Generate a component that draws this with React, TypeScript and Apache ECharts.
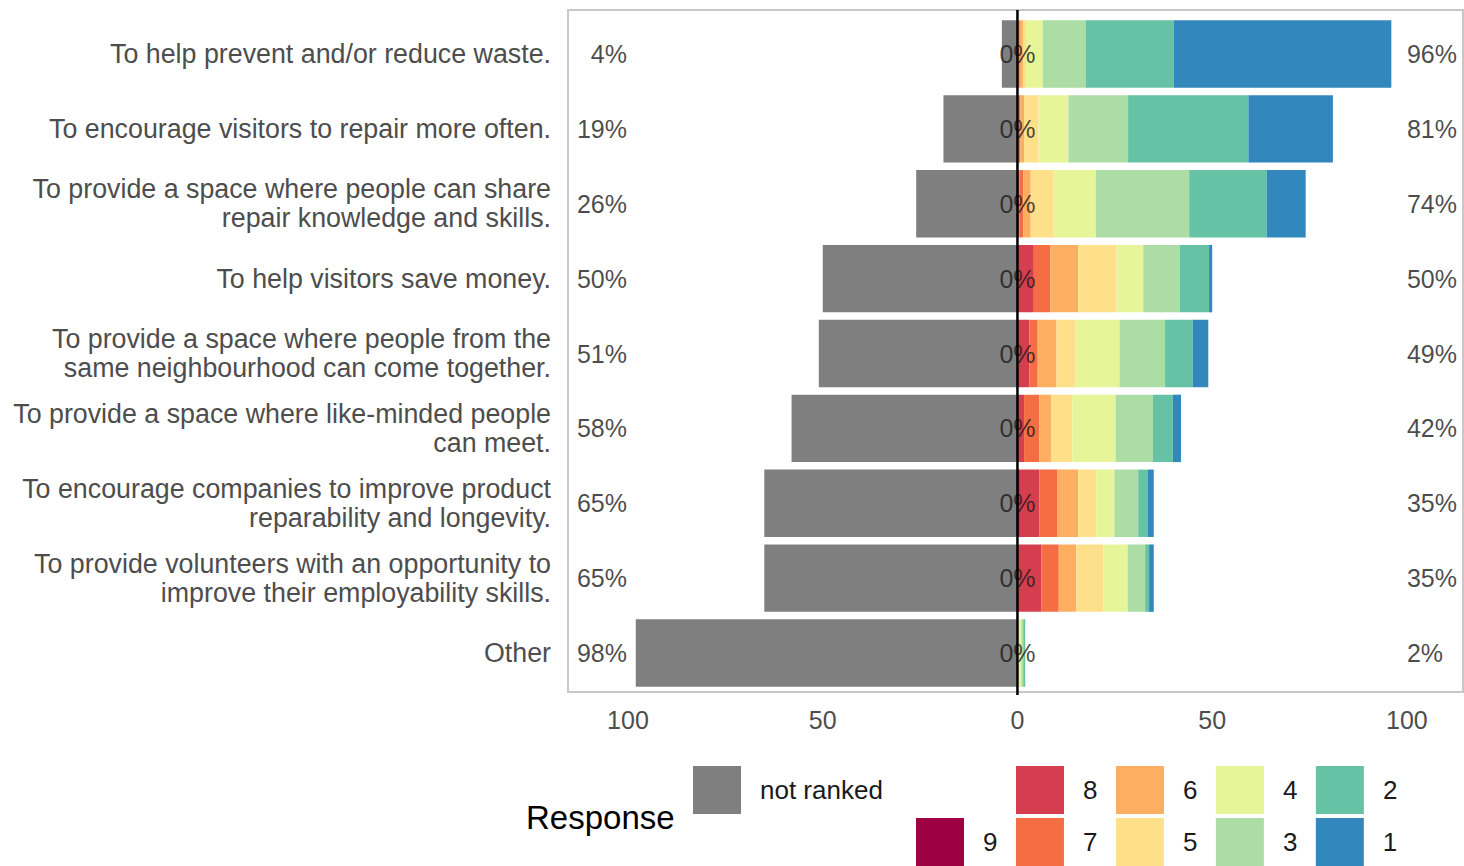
import React, { useEffect, useRef } from "react";
import * as echarts from "echarts";

const categories = [
  "To help prevent and/or reduce waste.",
  "To encourage visitors to repair more often.",
  "To provide a space where people can share\nrepair knowledge and skills.",
  "To help visitors save money.",
  "To provide a space where people from the\nsame neighbourhood can come together.",
  "To provide a space where like-minded people\ncan meet.",
  "To encourage companies to improve product\nreparability and longevity.",
  "To provide volunteers with an opportunity to\nimprove their employability skills.",
  "Other",
];

const notRanked = [4, 19, 26, 50, 51, 58, 65, 65, 98];
const neutral = [0, 0, 0, 0, 0, 0, 0, 0, 0];
const rank9 = [0, 0, 0, 0, 0, 0, 0.6, 0, 0];
const rank8 = [0, 0.3, 0.5, 4.2, 3.1, 1.7, 5.0, 6.1, 0];
const rank7 = [0.6, 0.4, 1.0, 4.3, 2.1, 3.9, 4.7, 4.5, 0];
const rank6 = [0.8, 1.0, 1.9, 7.1, 4.8, 3.0, 5.3, 4.5, 0];
const rank5 = [0.8, 3.7, 5.9, 9.8, 4.8, 5.5, 4.7, 7.0, 0.3];
const rank4 = [4.3, 7.7, 10.8, 6.9, 11.4, 11.1, 4.6, 6.2, 0.7];
const rank3 = [11.0, 15.3, 24.0, 9.4, 11.7, 9.6, 6.1, 4.5, 0.5];
const rank2 = [22.6, 30.9, 19.9, 7.5, 7.1, 5.1, 2.5, 1.0, 0.5];
const rank1 = [55.9, 21.7, 10.0, 0.8, 4.0, 2.1, 1.5, 1.2, 0];

const xTicks = [-100, -50, 0, 50, 100];

const rankNames = ["9", "8", "7", "6", "5", "4", "3", "2", "1"];
const rankData = [rank9, rank8, rank7, rank6, rank5, rank4, rank3, rank2, rank1];
const rankColors = ["#9E0142", "#D53E4F", "#F46D43", "#FDAE61", "#FEE08B", "#E6F598", "#ABDDA4", "#66C2A5", "#3288BD"];
const greyColor = "#7F7F7F";

const FONT = "'Liberation Sans', Arial, Helvetica, sans-serif";

export default function App() {
  const ref = useRef<HTMLDivElement>(null);

  useEffect(() => {
    if (!ref.current) return;
    const chart = echarts.init(ref.current, null, { renderer: "svg" });

    const rankedTotals = categories.map((_, i) =>
      rankData.reduce((s, arr) => s + arr[i], 0)
    );

    const labelStyle = {
      fontSize: 25,
      color: "#1a1a1a",
      fontFamily: FONT,
    };

    const legendCommon = {
      orient: "horizontal" as const,
      itemWidth: 48,
      itemHeight: 48,
      icon: "rect",
      selectedMode: false,
      itemGap: 18.5,
      textStyle: { fontSize: 26, color: "#1a1a1a", fontFamily: FONT, padding: [0, 0, 0, 14] },
    };

    const option: any = {
      animation: false,
      backgroundColor: "#ffffff",
      textStyle: { fontFamily: FONT },
      grid: {
        left: 568,
        top: 16.56,
        width: 895,
        height: 673.9,
        containLabel: false,
      },
      xAxis: {
        type: "value",
        min: -115.4,
        max: 114.4,
        splitLine: { show: false },
        axisLine: { show: false },
        axisTick: { show: false },
        axisLabel: {
          customValues: xTicks,
          formatter: (v: number) => String(Math.abs(v)),
          fontSize: 25,
          color: "#4d4d4d",
          fontFamily: FONT,
          margin: 17,
        },
      },
      yAxis: {
        type: "category",
        data: categories,
        inverse: true,
        axisLine: { show: false },
        axisTick: { show: false },
        splitLine: { show: false },
        axisLabel: {
          fontSize: 26.8,
          lineHeight: 29,
          color: "#4d4d4d",
          fontFamily: FONT,
          margin: 17,
          align: "right",
        },
      },
      legend: [
        { ...legendCommon, data: ["not ranked"], left: 688, top: 761 },
        { ...legendCommon, data: ["8", "6", "4", "2"], left: 1011, top: 761 },
        { ...legendCommon, data: ["9", "7", "5", "3", "1"], left: 911, top: 813 },
      ],
      graphic: [
        {
          id: "border",
          type: "rect",
          shape: { x: 568, y: 10, width: 895, height: 682 },
          style: { fill: "none", stroke: "#c8c8c8", lineWidth: 2 },
          z: 50,
        },
        {
          id: "title",
          type: "text",
          x: 526,
          y: 817,
          style: {
            text: "Response",
            font: `33px ${FONT}`,
            fill: "#000000",
            textAlign: "left",
            textVerticalAlign: "middle",
          },
        },
      ],
      series: [
        {
          name: "not ranked",
          type: "bar",
          stack: "total",
          barWidth: "90%",
          itemStyle: { color: greyColor },
          data: notRanked.map((v) => -v),
        },
        ...rankNames.map((name, k) => ({
          name,
          type: "bar",
          stack: "total",
          barWidth: "90%",
          itemStyle: { color: rankColors[k] },
          data: rankData[k],
        })),
        {
          name: "leftLabels",
          type: "scatter",
          symbolSize: 0,
          silent: true,
          z: 20,
          data: categories.map((_, i) => [-100, i]),
          label: {
            show: true,
            position: "left",
            distance: 1,
            ...labelStyle,
            formatter: (p: any) => `${Math.round(notRanked[p.dataIndex])}%`,
          },
        },
        {
          name: "centerLabels",
          type: "scatter",
          symbolSize: 0,
          silent: true,
          z: 20,
          data: categories.map((_, i) => [0, i]),
          label: {
            show: true,
            position: "inside",
            ...labelStyle,
            formatter: (p: any) => `${Math.round(neutral[p.dataIndex])}%`,
          },
        },
        {
          name: "rightLabels",
          type: "scatter",
          symbolSize: 0,
          silent: true,
          z: 20,
          data: categories.map((_, i) => [100, i]),
          label: {
            show: true,
            position: "right",
            distance: 0,
            ...labelStyle,
            formatter: (p: any) => `${Math.round(rankedTotals[p.dataIndex])}%`,
          },
        },
      ],
    };

    chart.setOption(option);

    const x0 = chart.convertToPixel({ xAxisIndex: 0 }, 0) as number;
    chart.setOption({
      graphic: [
        {
          id: "zero",
          type: "line",
          shape: { x1: x0, y1: 10, x2: x0, y2: 695 },
          style: { stroke: "#000000", lineWidth: 2.5 },
          z: 100,
        },
      ],
    });

    return () => {
      chart.dispose();
    };
  }, []);

  return (
    <div
      ref={ref}
      style={{ position: "fixed", left: 0, top: 0, width: 1464, height: 866, background: "#ffffff" }}
    />
  );
}
